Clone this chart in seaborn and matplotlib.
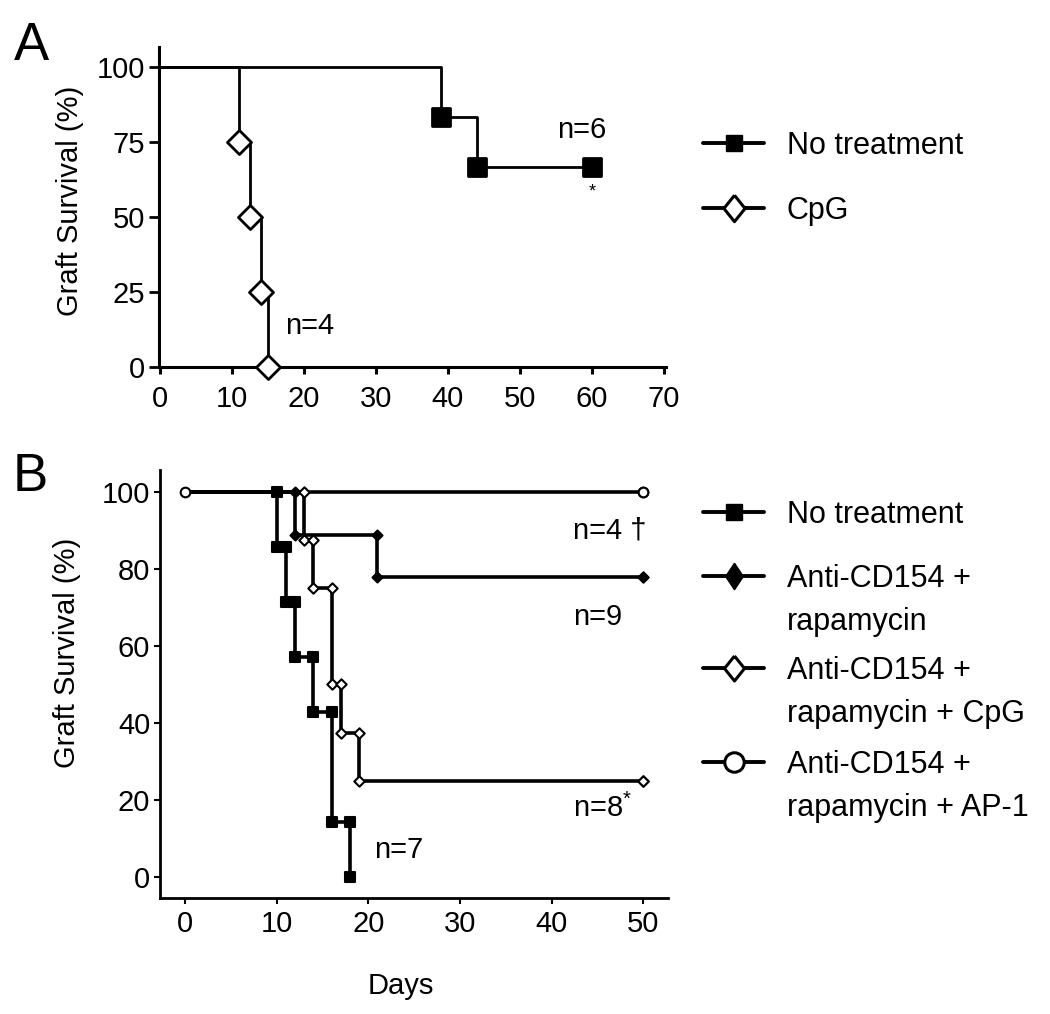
import matplotlib

matplotlib.use("Agg")
import matplotlib.pyplot as plt
import seaborn as sns
from matplotlib.lines import Line2D

# ---------------------------------------------------------------------------
# Data (Kaplan-Meier graft survival)
# ---------------------------------------------------------------------------
A_NT_DAYS = [0, 39, 44, 60]
A_NT_SURV = [100, 83.3, 66.7, 66.7]
A_CPG_DAYS = [0, 11, 12.5, 14, 15]
A_CPG_SURV = [100, 75, 50, 25, 0]
A_LABELS = ["No treatment", "CpG"]
A_XTICKS = [0, 10, 20, 30, 40, 50, 60, 70]
A_YTICKS = [0, 25, 50, 75, 100]

B_NT_DAYS = [0, 10, 11, 12, 14, 16, 18]
B_NT_SURV = [100, 85.7, 71.4, 57.1, 42.9, 14.3, 0]
B_RAPA_DAYS = [0, 12, 21, 50]
B_RAPA_SURV = [100, 88.9, 77.8, 77.8]
B_CPG_DAYS = [0, 13, 14, 16, 17, 19, 50]
B_CPG_SURV = [100, 87.5, 75, 50, 37.5, 25, 25]
B_AP1_DAYS = [0, 50]
B_AP1_SURV = [100, 100]
B_LABELS = [
    ["No treatment"],
    ["Anti-CD154 +", "rapamycin"],
    ["Anti-CD154 +", "rapamycin + CpG"],
    ["Anti-CD154 +", "rapamycin + AP-1"],
]
B_XTICKS = [0, 10, 20, 30, 40, 50]
B_YTICKS = [0, 20, 40, 60, 80, 100]

A_NOTES = [("n=6", 55.2, 79), ("n=4", 17.4, 13.7)]
A_STAR = (60, 58.5)
B_NOTES = [("n=4 †", 42.3, 90), ("n=9", 42.3, 67.4),
           ("n=8$^{*}$", 42.3, 17.9), ("n=7", 20.6, 7.0)]

# ---------------------------------------------------------------------------
sns.set_style("ticks")
plt.rcParams["font.family"] = ["Liberation Sans", "DejaVu Sans"]
plt.rcParams["mathtext.default"] = "regular"
for key in ("text.color", "axes.labelcolor", "xtick.color", "ytick.color"):
    plt.rcParams[key] = "black"

W, H = 1050, 1014
FS = 21


def km_corners(days, surv):
    """Turn event days / survival levels into step-corner points."""
    xs, ys = [days[0]], [surv[0]]
    for i in range(1, len(days)):
        xs += [days[i], days[i]]
        ys += [surv[i - 1], surv[i]]
    return xs, ys


def tall_diamond(ratio):
    return [(0, 0.5), (ratio / 2, 0), (0, -0.5), (-ratio / 2, 0), (0, 0.5)]


def style_axes(ax, lw):
    sns.despine(ax=ax)
    for side in ("left", "bottom"):
        ax.spines[side].set_linewidth(lw)
        ax.spines[side].set_color("black")


def legend_entry(fig, y_px, lines, mstyle):
    fig.add_artist(Line2D([703 / W, 764 / W], [1 - y_px / H] * 2,
                          transform=fig.transFigure, color="black", lw=2.8))
    fig.add_artist(Line2D([734 / W], [1 - y_px / H], transform=fig.transFigure,
                          ls="none", color="black", **mstyle))
    for k, txt in enumerate(lines):
        fig.text(787 / W, 1 - (y_px + 11 + 43 * k) / H, txt, fontsize=22,
                 ha="left", va="baseline")


fig = plt.figure(figsize=(10.5, 10.14), dpi=100)

# ----------------------------- Panel A -------------------------------------
axA = fig.add_axes([159 / W, 1 - 367 / H, (666 - 159) / W, (367 - 47) / H])
for days, surv, mk, face in [(A_NT_DAYS, A_NT_SURV, "s", "black"),
                             (A_CPG_DAYS, A_CPG_SURV, "D", "white")]:
    sns.lineplot(x=days, y=surv, estimator=None, sort=False,
                 drawstyle="steps-post", color="black", lw=2.0, ax=axA)
    sns.scatterplot(x=days[1:], y=surv[1:], marker=mk, s=150, color=face,
                    edgecolor="black", linewidth=2.0, zorder=3, clip_on=False,
                    legend=False, ax=axA)

axA.set_xlim(-0.14, 70.3)
axA.set_ylim(0, 106.7)
axA.set_xticks(A_XTICKS)
axA.set_yticks(A_YTICKS)
style_axes(axA, 2.2)
axA.tick_params(axis="x", length=5, width=2.2, pad=8, labelsize=FS)
axA.tick_params(axis="y", length=7, width=2.0, pad=3, labelsize=FS)
axA.set_ylabel("Graft Survival (%)", fontsize=FS, va="center")
axA.yaxis.set_label_coords(-0.175, 0.519)
for txt, x, y in A_NOTES:
    axA.text(x, y, txt, fontsize=FS, ha="left", va="center")
axA.text(A_STAR[0], A_STAR[1], "*", fontsize=13, ha="center", va="center")

fig.text(14 / W, 1 - 60 / H, "A", fontsize=38, ha="left", va="baseline")

legend_entry(fig, 143, [A_LABELS[0]],
             dict(marker="s", markersize=12, markerfacecolor="black"))
legend_entry(fig, 208, [A_LABELS[1]],
             dict(marker=tall_diamond(0.8), markersize=19, markerfacecolor="white",
                  markeredgewidth=2.2))

# ----------------------------- Panel B -------------------------------------
axB = fig.add_axes([160 / W, 1 - 898 / H, (668 - 160) / W, (898 - 470) / H])
b_series = [
    (B_NT_DAYS, B_NT_SURV, "s", "black", 46, 1),
    (B_RAPA_DAYS, B_RAPA_SURV, "D", "black", 26, 1),
    (B_CPG_DAYS, B_CPG_SURV, "D", "white", 28, 1),
    (B_AP1_DAYS, B_AP1_SURV, "o", "white", 48, 0),
]
for days, surv, mk, face, size, first in b_series:
    xs, ys = km_corners(days, surv)
    sns.lineplot(x=xs, y=ys, estimator=None, sort=False, color="black",
                 lw=2.6, ax=axB)
for days, surv, mk, face, size, first in b_series:
    xs, ys = km_corners(days, surv)
    sns.scatterplot(x=xs[first:], y=ys[first:], marker=mk, s=size, color=face,
                    edgecolor="black", linewidth=1.5, zorder=3, clip_on=False,
                    legend=False, ax=axB)

axB.set_xlim(-2.73, 52.7)
axB.set_ylim(-5.45, 105.7)
axB.set_xticks(B_XTICKS)
axB.set_yticks(B_YTICKS)
style_axes(axB, 2.0)
axB.tick_params(axis="x", length=4, width=1.5, pad=5, labelsize=FS)
axB.tick_params(axis="y", length=4, width=1.5, pad=3, labelsize=FS)
axB.set_ylabel("Graft Survival (%)", fontsize=FS, va="center")
axB.yaxis.set_label_coords(-0.183, 0.572)
axB.set_xlabel("Days", fontsize=FS, va="center")
axB.xaxis.set_label_coords(0.474, -0.2056)
for txt, x, y in B_NOTES:
    axB.text(x, y, txt, fontsize=FS, ha="left", va="center")

fig.text(13 / W, 1 - 491 / H, "B", fontsize=38, ha="left", va="baseline")

b_handles = [
    dict(marker="s", markersize=11.5, markerfacecolor="black"),
    dict(marker=tall_diamond(0.67), markersize=19, markerfacecolor="black"),
    dict(marker=tall_diamond(0.8), markersize=18, markerfacecolor="white",
         markeredgewidth=2.2),
    dict(marker="o", markersize=14, markerfacecolor="white", markeredgewidth=2.2),
]
for y_px, lines, st in zip([512, 576, 668, 762], B_LABELS, b_handles):
    legend_entry(fig, y_px, lines, st)

fig.savefig("out.png", dpi=100)
